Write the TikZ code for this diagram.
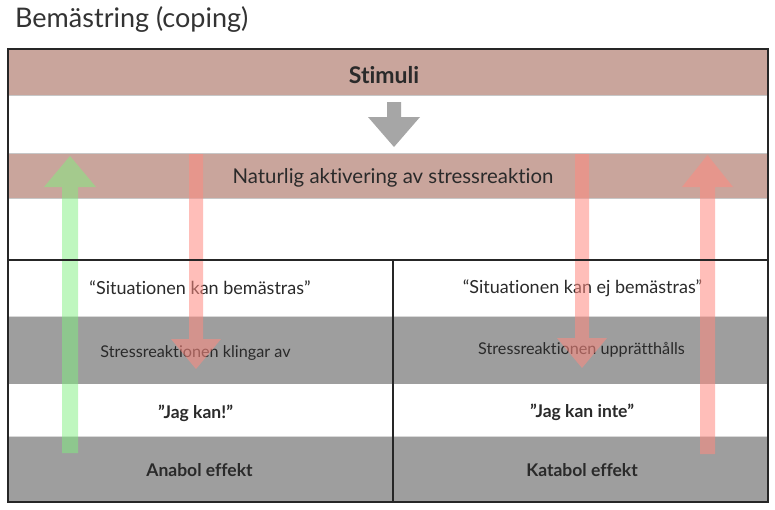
\documentclass[tikz,border=0pt]{standalone}
\usepackage{fontspec}
\setmainfont{Lato}[Ligatures={NoCommon,NoRare,NoContextual}]
\definecolor{bandred}{HTML}{C9A59C}
\definecolor{rowgray}{HTML}{9E9E9E}
\definecolor{arrgray}{HTML}{A6A6A6}
\definecolor{arrred}{HTML}{FF8A80}
\definecolor{arrgreen}{HTML}{80F080}
\definecolor{txt}{HTML}{2A2A2A}
\newcommand{\blockarr}[8]{% name, style, xc, ystart, ybase, ytip, shaft hw, head hw
  \coordinate (#1-s) at (#3,#4);
  \coordinate (#1-t) at (#3,#6);
  \fill[#2] (#3-#7,#4) -- (#3-#7,#5) -- (#3-#8,#5) -- (#1-t) -- (#3+#8,#5) -- (#3+#7,#5) -- (#3+#7,#4) -- cycle;}
\begin{document}
\begin{tikzpicture}[x=1pt,y=-1pt,
  band/.style={fill=bandred,draw=black!22,line width=0.6pt,inner sep=0pt,outer sep=0pt,text=txt},
  whiterow/.style={fill=white,inner sep=0pt,outer sep=0pt,text=txt},
  grayrow/.style={fill=rowgray,draw=black!15,line width=0.5pt,inner sep=0pt,outer sep=0pt,text=txt},
  lab/.style={text=txt,inner sep=0pt},
  regtxt/.style={lab,font=\fontsize{18}{21}\selectfont},
  smalltxt/.style={lab,font=\fontsize{16.2}{19}\selectfont},
  boldtxt/.style={lab,font=\fontsize{17.5}{21}\selectfont\bfseries}]
\useasboundingbox (0,0) rectangle (775,509);
\fill[white] (0,0) rectangle (775,509);
\node[anchor=base west,text=black!80,inner sep=0pt] (title) at (15,27) {\fontsize{27}{31}\selectfont Bemästring (coping)};
% bands
\node[band,minimum width=760pt,minimum height=46pt] (stim) at (388,72) {};
\node[lab] (stimlab) at (384,75) {\fontsize{23}{27}\selectfont\bfseries Stimuli};
\node[band,minimum width=760pt,minimum height=45pt] (nat) at (388,175.5) {};
\node[lab] (natlab) at (393,178) {\fontsize{20.4}{24}\selectfont Naturlig aktivering av stressreaktion};
% left column rows
\node[whiterow,minimum width=385pt,minimum height=56pt] (l1) at (200.5,288) {};
\node[grayrow,minimum width=385pt,minimum height=68pt] (l2) at (200.5,350) {};
\node[whiterow,minimum width=385pt,minimum height=52pt] (l3) at (200.5,410) {};
\node[grayrow,minimum width=385pt,minimum height=66pt] (l4) at (200.5,469) {};
% right column rows
\node[whiterow,minimum width=375pt,minimum height=56pt] (r1) at (580.5,288) {};
\node[grayrow,minimum width=375pt,minimum height=68pt] (r2) at (580.5,350) {};
\node[whiterow,minimum width=375pt,minimum height=52pt] (r3) at (580.5,410) {};
\node[grayrow,minimum width=375pt,minimum height=66pt] (r4) at (580.5,469) {};
% texts
\node[regtxt] (l1t) at (200,288) {“Situationen kan bemästras”};
\node[smalltxt] (l2t) at (195.5,353) {Stressreaktionen klingar av};
\node[boldtxt] (l3t) at (195.5,413) {”Jag kan!”};
\node[boldtxt] (l4t) at (199.5,470) {Anabol effekt};
\node[regtxt] (r1t) at (582.5,288) {“Situationen kan ej bemästras”};
\node[smalltxt] (r2t) at (581.5,350) {Stressreaktionen upprätthålls};
\node[boldtxt] (r3t) at (582,412) {”Jag kan inte”};
\node[boldtxt] (r4t) at (582,470) {Katabol effekt};
% arrows
\blockarr{ga}{arrgray}{394}{102}{117}{147}{7}{26}
\blockarr{green}{arrgreen,opacity=0.5}{70}{453}{187}{156}{8}{26}
\blockarr{redl}{arrred,opacity=0.55}{196}{154}{339}{369}{7}{25}
\blockarr{redm}{arrred,opacity=0.55}{582}{154}{338}{368}{7}{25}
\blockarr{redr}{arrred,opacity=0.55}{707.5}{454}{187}{155}{7.5}{25.5}
% frame lines
\draw[black!85,line width=1.1pt] (stim.north west) rectangle (l4.south west -| stim.east);
\draw[black!85,line width=1.1pt] (l1.north west) -- (r1.north east);
\draw[black!85,line width=1.1pt] (l1.north east) -- (l4.south east);
\end{tikzpicture}
\end{document}
